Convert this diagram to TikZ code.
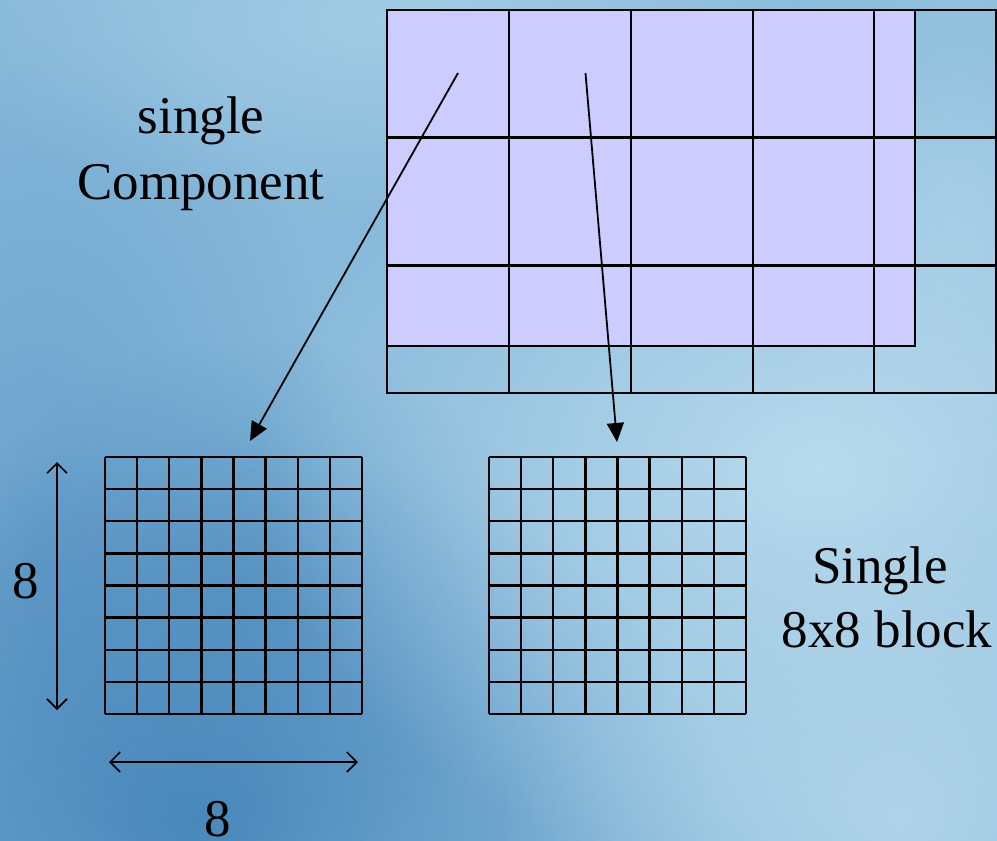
\documentclass[tikz,border=0pt]{standalone}
\usepackage{fontspec}
\setmainfont{Liberation Serif}
\usetikzlibrary{fadings,arrows.meta}
\tikzfading[name=softblob, inner color=transparent!0, outer color=transparent!100]
\definecolor{bgbase}{RGB}{135,185,218}
\definecolor{blobdark}{RGB}{66,130,184}
\definecolor{blobmid}{RGB}{104,160,204}
\definecolor{bloblight}{RGB}{190,222,240}
\definecolor{lav}{RGB}{204,204,255}
\tikzset{
  gridline/.style={black,line width=2.4pt},
  pointer/.style={black,line width=1.8pt,-{Triangle[length=19pt,width=17pt]}},
  dimarrow/.style={black,line width=1.6pt,{Straight Barb[length=10pt,width=20pt]}-{Straight Barb[length=10pt,width=20pt]}},
  lbl/.style={font=\fontsize{53}{64}\selectfont,inner sep=0pt,anchor=base},
  blob/.style={path fading=softblob}
}
\begin{document}
\begin{tikzpicture}[x=1pt,y=-1pt]
\useasboundingbox (0,0) rectangle (997,841);
% background
\fill[bgbase] (0,0) rectangle (997,841);
\fill[blobmid,blob,opacity=0.9] (40,560) ellipse (300 and 600);
\fill[blobdark,blob,opacity=0.85] (200,820) ellipse (520 and 380);
\fill[blobdark,blob,opacity=0.5] (250,600) ellipse (300 and 260);
\fill[bloblight,blob,opacity=0.5] (400,20) ellipse (500 and 200);
\fill[bloblight,blob,opacity=0.9] (820,470) ellipse (560 and 420);
\fill[bloblight,blob,opacity=0.7] (900,820) ellipse (400 and 300);
\fill[bloblight,blob,opacity=0.4] (960,200) ellipse (200 and 400);

% top component grid
\fill[lav] (387,10) rectangle (915,346);
\draw[gridline] (387,10) rectangle (996,393);
\foreach \yy in {137.5,265.5} \draw[gridline] (387,\yy) -- (996,\yy);
\foreach \xx in {509,631,753,874} \draw[gridline] (\xx,10) -- (\xx,393);
\draw[gridline] (387,346) -- (915,346) -- (915,10);
\coordinate (s1) at (458,73);
\coordinate (s2) at (585.5,73);

% left 8x8 block
\node[draw=none,inner sep=0pt,minimum width=257pt,minimum height=257pt,anchor=north west] (blockA) at (105,457) {};
\foreach \i in {0,...,8} {
  \draw[gridline] (105+\i*32.125,457) -- (105+\i*32.125,714);
  \draw[gridline] (105,457+\i*32.125) -- (362,457+\i*32.125);
}
% right 8x8 block
\node[draw=none,inner sep=0pt,minimum width=257pt,minimum height=257pt,anchor=north west] (blockB) at (489,457) {};
\foreach \i in {0,...,8} {
  \draw[gridline] (489+\i*32.125,457) -- (489+\i*32.125,714);
  \draw[gridline] (489,457+\i*32.125) -- (746,457+\i*32.125);
}

% pointers
\coordinate (e1) at (250,441);
\coordinate (e2) at (617,442);
\draw[pointer] (s1) -- (e1);
\draw[pointer] (s2) -- (e2);

% dimension arrows
\coordinate (v1) at (57,462);
\coordinate (v2) at (57,710);
\coordinate (h1) at (109,762);
\coordinate (h2) at (358,762);
\draw[dimarrow] (v1) -- (v2);
\draw[dimarrow] (h1) -- (h2);

% labels
\node[lbl] (t1) at (201,133) {single};
\node[lbl] (t2) at (201,199) {Component};
\node[lbl] (t3) at (880,583) {Single};
\node[lbl] (t4) at (887,647) {8x8 block};
\node[lbl] (n1) at (26,598) {8};
\node[lbl] (n2) at (218,836) {8};
\end{tikzpicture}
\end{document}
